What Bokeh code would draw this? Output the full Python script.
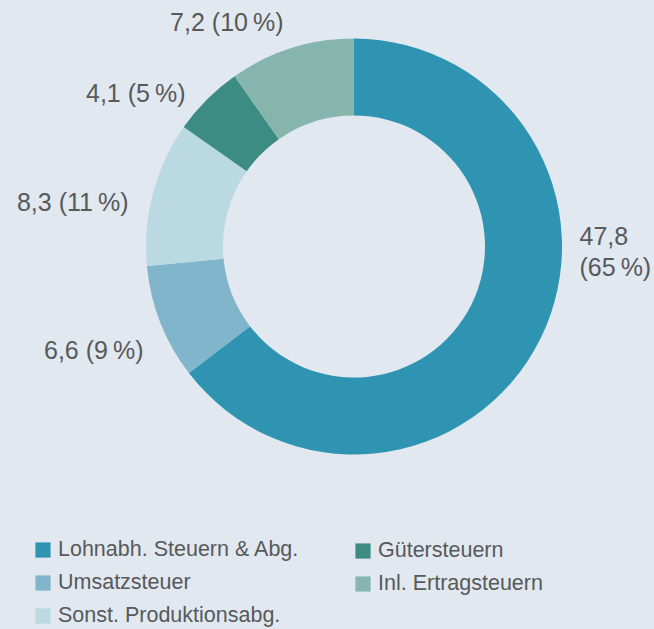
import math
from bokeh.plotting import figure
from bokeh.models import ColumnDataSource, Range1d, Legend, LegendItem
from bokeh.core.properties import value
from bokeh.embed import file_html
from bokeh.resources import INLINE

categories = ["Lohnabh. Steuern & Abg.", "Umsatzsteuer", "Sonst. Produktionsabg.",
              "Gütersteuern", "Inl. Ertragsteuern"]
values = [47.8, 6.6, 8.3, 4.1, 7.2]
percents = [65, 9, 11, 5, 10]
colors = ["#2f94b1", "#80b5cc", "#bad9e3", "#3d8c84", "#86b5ae"]

BG = "#e1e8f0"
TXT = "#58595b"
FONT = "Liberation Sans"
W, H = 654, 629

total = sum(values)
starts, ends = [], []
cum = 0.0
for v in values:
    a0 = math.pi / 2 - 2 * math.pi * cum / total
    cum += v
    a1 = math.pi / 2 - 2 * math.pi * cum / total
    starts.append(a1)
    ends.append(a0)

src = ColumnDataSource(dict(cat=categories, val=values, color=colors,
                            start=starts, end=ends))

p = figure(width=W, height=H, output_backend="svg", toolbar_location=None,
           x_range=Range1d(0, W), y_range=Range1d(0, H), min_border=0,
           background_fill_color=BG, border_fill_color=BG, outline_line_color=None)
p.axis.visible = False
p.grid.visible = False

cx, cy = 353.5, H - 246
r = p.annular_wedge(x=cx, y=cy, inner_radius=131, outer_radius=208,
                    start_angle="start", end_angle="end", direction="anticlock",
                    fill_color="color", line_color=None, source=src)

def fmt(v):
    return ("%.1f" % v).replace(".", ",")

labels = []
for i, (v, pc) in enumerate(zip(values, percents)):
    if i == 0:
        labels.append(fmt(v) + "\n(" + str(pc) + "\u2009%)")
    else:
        labels.append(fmt(v) + " (" + str(pc) + "\u2009%)")

# label anchors (screen px, from top-left)
lab_x = [579, 143, 128, 185, 283]
lab_y = [251, 349, 201, 92, 21]
lab_align = ["left", "right", "right", "right", "right"]
lsrc = ColumnDataSource(dict(x=lab_x, y=[H - y for y in lab_y],
                             text=labels, align=lab_align))
p.text(x="x", y="y", text="text", text_align="align", text_baseline="middle",
       text_font_size="25px", text_color=TXT, text_line_height=1.08,
       text_font=value(FONT), source=lsrc)

ITEM_H = 24
SPACING = 8

def mk_legend(idx, x, y_top):
    items = [LegendItem(label=categories[i], renderers=[r], index=i) for i in idx]
    n = len(idx)
    height = n * ITEM_H + (n - 1) * SPACING
    lg = Legend(items=items, location=(x, H - y_top - height),
                glyph_width=19, glyph_height=19, label_height=19,
                spacing=SPACING, padding=0, margin=0, label_standoff=6,
                label_text_font_size="21.5px", label_text_color=TXT,
                label_text_font=FONT,
                background_fill_alpha=0, border_line_color=None)
    return lg

p.add_layout(mk_legend([0, 1, 2], 33, 540))
p.add_layout(mk_legend([3, 4], 353, 540))

html = file_html(p, INLINE)
html = html.replace("</head>", "<style>body{background:%s;}</style></head>" % BG, 1)
open("out.html", "w").write(html)
